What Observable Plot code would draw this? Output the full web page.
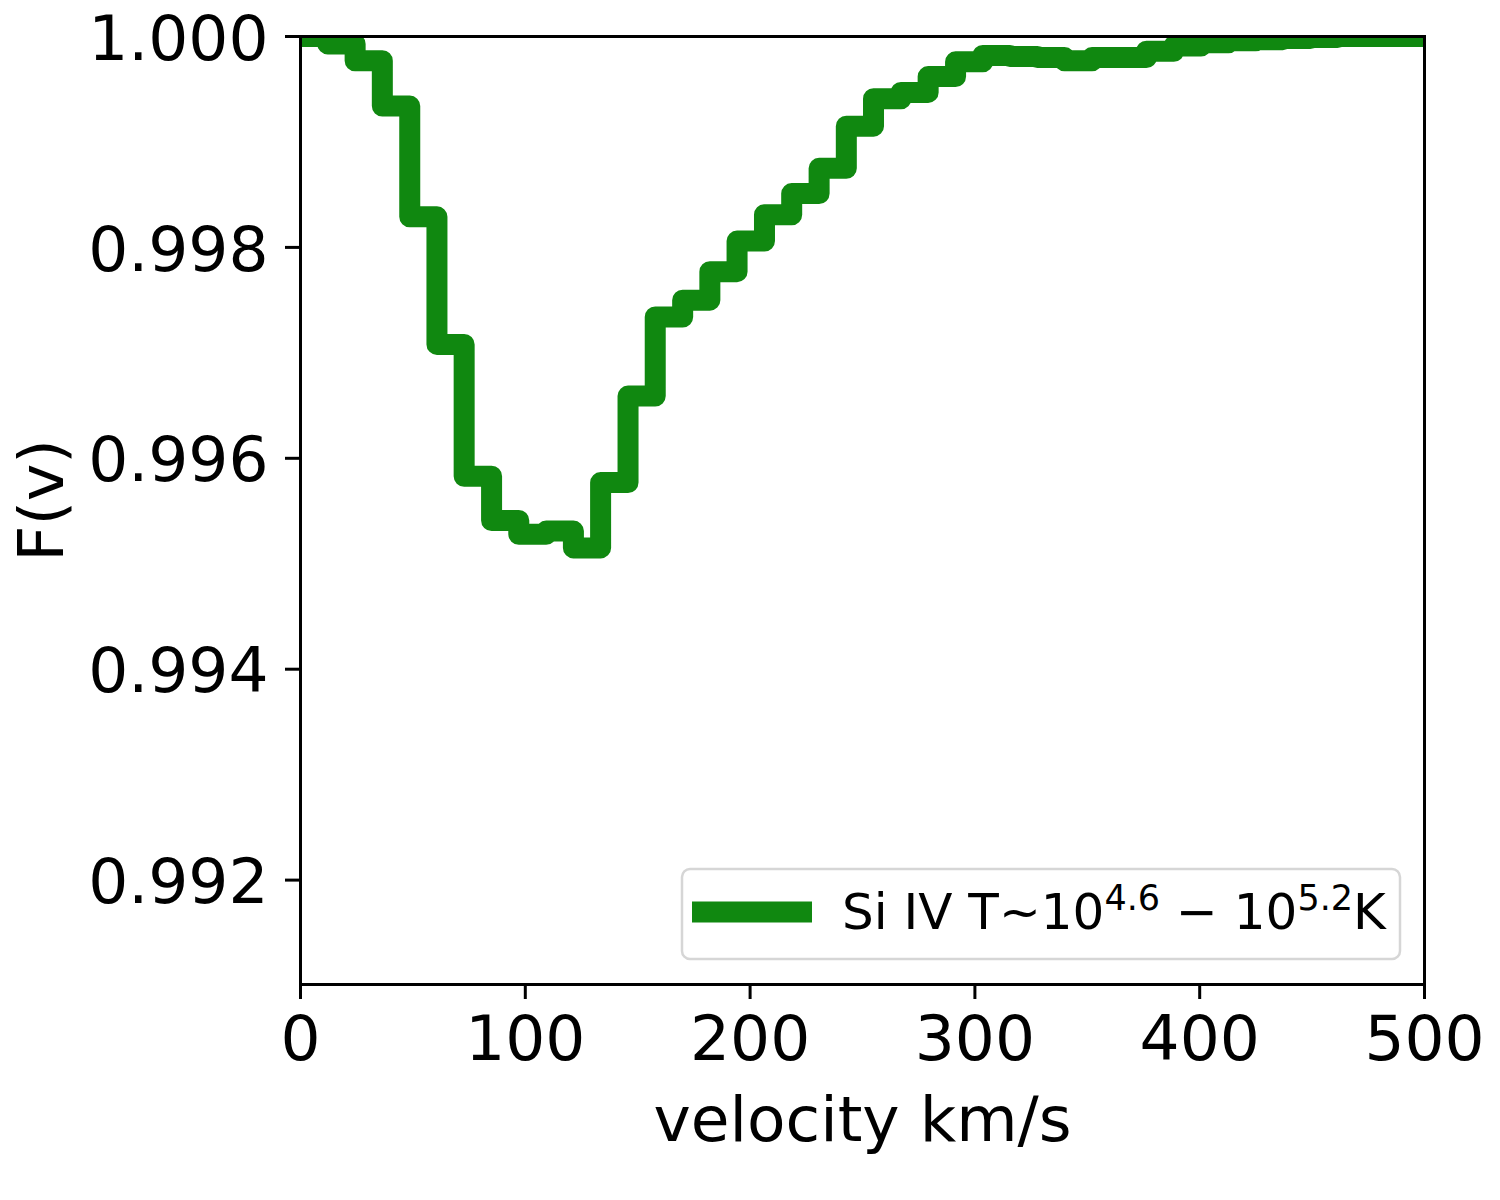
<!DOCTYPE html>
<html>
<head>
<meta charset="utf-8">
<script src="https://cdn.jsdelivr.net/npm/d3@7"></script>
<script src="https://cdn.jsdelivr.net/npm/@observablehq/plot@0.6"></script>
<style>
  html, body { margin: 0; padding: 0; background: #ffffff; }
  #chart { position: relative; width: 1500px; height: 1200px; }
</style>
</head>
<body>
<div id="chart"></div>
<script>
// Left edges of velocity bins (km/s)
const velocity = [0, 12.1, 24.3, 36.4, 48.6, 60.7, 72.8, 85.0, 97.1, 109.3, 121.4, 133.5,
  145.7, 157.8, 170.0, 182.1, 194.2, 206.4, 218.5, 230.7, 242.8, 254.9, 267.1, 279.2,
  291.4, 303.5, 315.6, 327.8, 339.9, 352.1, 364.2, 376.3, 388.5, 400.6, 412.8, 424.9,
  437.0, 449.2, 461.3, 473.5, 485.6, 497.7, 510.0];
// Normalised flux F(v) in each bin
const flux = [1.00000, 0.99993, 0.99977, 0.99934, 0.99829, 0.99708, 0.99583, 0.99541,
  0.99528, 0.99531, 0.99515, 0.99577, 0.99659, 0.99734, 0.99750, 0.99777, 0.99806,
  0.99831, 0.99851, 0.99875, 0.99915, 0.99941, 0.99947, 0.99962, 0.99976, 0.99982,
  0.99981, 0.99980, 0.99977, 0.99980, 0.99980, 0.99986, 0.99991, 0.99994, 0.99996,
  0.99997, 0.99998, 0.99999, 1.00000, 1.00000, 1.00000, 1.00000, 1.00000];
const xTicks = [0, 100, 200, 300, 400, 500];
const yTicks = [0.992, 0.994, 0.996, 0.998, 1.000];
const seriesLabel = "Si IV";
const xLabel = "velocity km/s";
const yLabel = "F(v)";
const lineColor = "#108810";

const data = velocity.map((v, i) => ({v, f: flux[i]}));

const chart = Plot.plot({
  width: 1500,
  height: 1200,
  marginLeft: 300,
  marginRight: 76,
  marginTop: 36,
  marginBottom: 216,
  style: {fontFamily: "DejaVu Sans", fontSize: "63px", background: "#ffffff", color: "black"},
  x: {domain: [0, 500]},
  y: {domain: [0.99101, 1.0]},
  marks: [
    Plot.line(data, {x: "v", y: "f", curve: "step-after", stroke: lineColor, strokeWidth: 21,
      strokeLinejoin: "round", strokeLinecap: "square", clip: true}),
    Plot.frame({stroke: "black", strokeWidth: 3}),
    Plot.axisX({ticks: xTicks, tickSize: 15, tickPadding: 16, strokeWidth: 3, fontSize: 63,
      tickFormat: d => String(d), label: null}),
    Plot.axisY({ticks: yTicks, tickSize: 15, strokeWidth: 3, tickFormat: () => "", label: null}),
    Plot.axisY({ticks: yTicks, tickSize: 0, tickPadding: 32, dy: 3, fontSize: 63,
      tickFormat: d3.format(".3f"), label: null}),
    Plot.text([xLabel], {frameAnchor: "bottom", dy: 156, lineAnchor: "bottom", textAnchor: "middle",
      fontSize: 63, fill: "black"}),
    Plot.text([yLabel], {frameAnchor: "left", rotate: -90, dx: -238, dy: -10, lineAnchor: "bottom",
      textAnchor: "middle", fontSize: 63, fill: "black"})
  ]
});

document.getElementById("chart").appendChild(chart);

// Legend (matplotlib-style box, lower right)
const svg = d3.select(chart);
const lg = svg.append("g").attr("font-family", "DejaVu Sans").attr("text-anchor", "start");
lg.append("rect").attr("x", 682).attr("y", 869).attr("width", 718).attr("height", 90)
  .attr("rx", 8).attr("fill", "#ffffff").attr("stroke", "#d6d6d6").attr("stroke-width", 2.5);
lg.append("line").attr("x1", 692).attr("x2", 812).attr("y1", 912).attr("y2", 912)
  .attr("stroke", lineColor).attr("stroke-width", 21);
const t = lg.append("text").attr("x", 842).attr("y", 929).attr("font-size", 50)
  .attr("fill", "black").attr("text-anchor", "start");
t.append("tspan").text(seriesLabel + " T~10");
t.append("tspan").attr("dy", -19).attr("font-size", 35).text("4.6");
t.append("tspan").attr("dy", 19).attr("font-size", 50).text(" \u2212 10");
t.append("tspan").attr("dy", -19).attr("font-size", 35).text("5.2");
t.append("tspan").attr("dy", 19).attr("font-size", 50).text("K");
</script>
</body>
</html>
